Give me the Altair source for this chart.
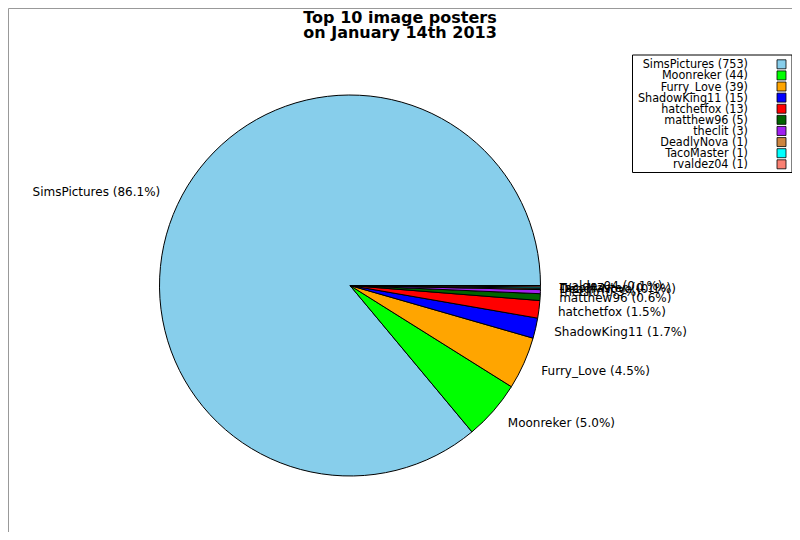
import math

import altair as alt
import pandas as pd

# Top 10 posters, in the order matplotlib draws them (counter-clockwise from east)
NAMES = [
    "SimsPictures", "Moonreker", "Furry_Love", "ShadowKing11", "hatchetfox",
    "matthew96", "theclit", "DeadlyNova", "TacoMaster", "rvaldez04",
]
COUNTS = [753, 44, 39, 15, 13, 5, 3, 1, 1, 1]
COLORS = [
    "#87ceeb", "#00ff00", "#ffa500", "#0000ff", "#ff0000",
    "#006400", "#a020f0", "#cd853f", "#00ffff", "#fa8072",
]
TITLE_LINES = ["Top 10 image posters", "on January 14th 2013"]

FONT = "DejaVu Sans"
CX, CY, R = 342, 277.5, 190.5

total = sum(COUNTS)
df = pd.DataFrame({"name": NAMES, "count": COUNTS})
df["idx"] = range(len(df))
df["pie_label"] = [f"{n} ({c / total * 100:.1f}%)" for n, c in zip(NAMES, COUNTS)]
df["legend_label"] = [f"{n} ({c})" for n, c in zip(NAMES, COUNTS)]
# which side of the pie the label sits on (decides the text alignment)
mid = (df["count"].cumsum() - df["count"] / 2) / total
left = [math.cos(2 * math.pi * m) < 0 for m in mid]
df["left_label"] = [l if s else "" for l, s in zip(df["pie_label"], left)]
df["right_label"] = [l if not s else "" for l, s in zip(df["pie_label"], left)]

one = pd.DataFrame({"k": [0]})

theta = alt.Theta(
    "count:Q", stack=True,
    scale=alt.Scale(range=[math.pi / 2, math.pi / 2 + 2 * math.pi]),
)
order = alt.Order("idx:Q", sort="descending")
color = alt.Color("name:N", scale=alt.Scale(domain=NAMES, range=COLORS), legend=None)
cx, cy = alt.value(CX), alt.value(CY)

base = alt.Chart(df)

pie = base.mark_arc(radius=R, stroke="black", strokeWidth=1).encode(
    theta=theta, order=order, color=color, x=cx, y=cy
)

lab_right = base.mark_text(
    radius=R * 1.1, align="left", baseline="middle", fontSize=12, font=FONT, color="black"
).encode(theta=theta, order=order, text="right_label:N", x=cx, y=cy)

lab_left = base.mark_text(
    radius=R * 1.1, align="right", baseline="middle", fontSize=12, font=FONT,
    color="black", dy=-5,
).encode(theta=theta, order=order, text="left_label:N", x=cx, y=cy)

# legend drawn by hand: labels right aligned, swatch on the right
ly = alt.Y(
    "name:N", sort=NAMES, axis=None,
    scale=alt.Scale(type="point", domain=NAMES, range=[56.3, 156.3], padding=0),
)
leg_box = alt.Chart(one).mark_rect(fill="white", stroke="black", strokeWidth=1).encode(
    x=alt.value(624.5), x2=alt.value(784), y=alt.value(47), y2=alt.value(164.5)
)
leg_text = base.mark_text(
    align="right", baseline="middle", fontSize=12.5, font="DejaVu Sans Condensed",
    color="black",
).encode(x=alt.value(740), y=ly, text="legend_label:N")
leg_sq = base.mark_square(
    size=81, filled=True, opacity=1, stroke="black", strokeWidth=0.8
).encode(x=alt.value(773.5), y=ly, color=color)

title = alt.Chart(one).mark_text(
    align="center", baseline="top", fontSize=16, fontWeight="bold",
    font=FONT, lineHeight=15, color="black",
).encode(x=alt.value(392), y=alt.value(2), text=alt.value(TITLE_LINES))

chart = (
    alt.layer(pie, lab_right, lab_left, leg_box, leg_text, leg_sq, title)
    .properties(width=784, height=524, padding=0, autosize=alt.AutoSizeParams(type="none"))
    .configure_view(stroke="#999999", strokeWidth=1)
)

chart.save("out.html", embed_options={"renderer": "svg", "actions": False})
